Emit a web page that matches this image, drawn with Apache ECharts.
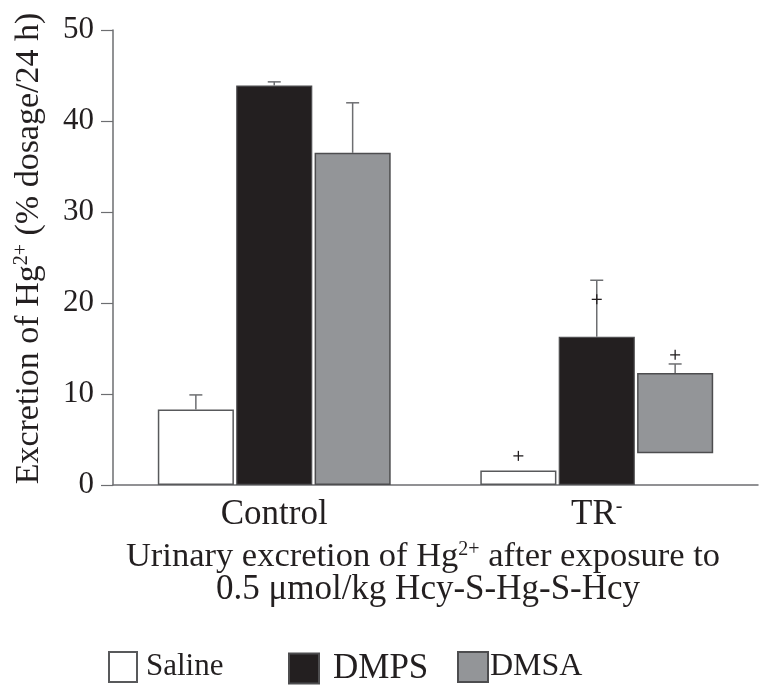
<!DOCTYPE html>
<html>
<head>
<meta charset="utf-8">
<script src="https://cdn.jsdelivr.net/npm/echarts@6/dist/echarts.min.js"></script>
<style>
html,body{margin:0;padding:0;background:#fff;}
#chart{width:774px;height:698px;}
</style>
</head>
<body>
<div id="chart"></div>
<script>
// ---- data ----
const categories = ['Control', 'TR-'];
const seriesNames = ['Saline', 'DMPS', 'DMSA'];
const salineValues = [8.3, 1.6];
const dmpsValues = [43.9, 16.3];
const dmsaTopValues = [36.5, 12.3];
const dmsaBaseValues = [0, 3.5];
const salineErrTop = [9.9, null];
const dmpsErrTop = [44.3, 22.5];
const dmsaErrTop = [42.0, 13.3];
const salinePlus = [null, 3.2];
const dmpsPlus = [null, 20.4];
const dmsaPlus = [null, 14.3];
const yTicks = [0, 10, 20, 30, 40, 50];

// ---- styles ----
const FONT = '"Liberation Serif", "DejaVu Serif", serif';
const TXT = '#231f20';
const BAR_W = 0.236;   // fraction of category band
const BAR_GAP = 0.03;  // fraction of bar width

const chart = echarts.init(document.getElementById('chart'), null, {renderer: 'canvas'});

// error bars data: [catIndex, slot, barTop, errTop]
const errData = [];
[[salineValues, salineErrTop], [dmpsValues, dmpsErrTop], [dmsaTopValues, dmsaErrTop]].forEach(function (pair, slot) {
  pair[0].forEach(function (v, i) {
    if (pair[1][i] != null) errData.push([i, slot, v, pair[1][i]]);
  });
});
const plusData = [];
[salinePlus, dmpsPlus, dmsaPlus].forEach(function (arr, slot) {
  arr.forEach(function (v, i) { if (v != null) plusData.push([i, slot, v]); });
});

function slotX(api, cat, slot) {
  const c = api.coord([cat, 0]);
  const band = api.size([1, 0])[0];
  const bw = band * BAR_W;
  return c[0] + (slot - 1) * bw * (1 + BAR_GAP);
}

const dmsaHeights = dmsaTopValues.map(function (v, i) { return v - dmsaBaseValues[i]; });

function legendItem(name, left, iconW, fontSize, pad) {
  return {
    data: [{name: name, icon: 'rect'}], left: left, top: 646, itemWidth: iconW, itemHeight: 30, itemGap: 10,
    textStyle: {fontFamily: FONT, fontSize: fontSize, color: TXT, padding: [0, 0, 0, pad]}, selectedMode: false
  };
}

const option = {
  backgroundColor: '#fff',
  animation: false,
  grid: {left: 113, right: 16, top: 30, bottom: 213, containLabel: false},
  legend: [
    legendItem(seriesNames[0], 103, 28, 31, 4),
    legendItem(seriesNames[1], 283, 30, 35, 9),
    legendItem(seriesNames[2], 452, 30, 32, -3)
  ],
  xAxis: {
    type: 'category',
    data: categories,
    axisTick: {show: false},
    axisLine: {lineStyle: {color: '#6d6e71', width: 1.5}},
    axisLabel: {
      fontFamily: FONT, fontSize: 35, color: TXT, margin: 12,
      formatter: function (v) {
        if (v.slice(-1) === '-') return v.slice(0, -1) + '{sup|-}';
        return v;
      },
      rich: {sup: {fontFamily: FONT, fontSize: 20, color: TXT, verticalAlign: 'top', padding: [0, 0, 16, 0]}}
    }
  },
  yAxis: {
    type: 'value',
    min: yTicks[0], max: yTicks[yTicks.length - 1], interval: yTicks[1] - yTicks[0],
    axisLine: {show: true, lineStyle: {color: '#6d6e71', width: 1.5}},
    axisTick: {show: true, length: 12, lineStyle: {color: '#6d6e71', width: 1.2}},
    splitLine: {show: false},
    axisLabel: {fontFamily: FONT, fontSize: 31, color: TXT, margin: 19},
    name: 'Excretion of Hg{sup|2+} (% dosage/24 h)',
    nameLocation: 'middle',
    nameGap: 67,
    nameRotate: 90,
    nameTextStyle: {
      fontFamily: FONT, fontSize: 34, color: TXT, padding: [0, 0, 0, 18],
      rich: {sup: {fontFamily: FONT, fontSize: 20, color: TXT, verticalAlign: 'top', padding: [0, 0, 14, 0]}}
    }
  },
  graphic: [
    {type: 'text', x: 423, y: 557, style: {
      text: 'Urinary excretion of Hg{sup|2+} after exposure to',
      font: '34.5px ' + FONT, fill: TXT, align: 'center', verticalAlign: 'middle',
      rich: {sup: {fontFamily: FONT, fontSize: 20, fill: TXT, verticalAlign: 'top', padding: [0, 0, 15, 0]}}
    }},
    {type: 'text', x: 428, y: 590, style: {
      text: '0.5 μmol/kg Hcy-S-Hg-S-Hcy',
      font: '35px ' + FONT, fill: TXT, align: 'center', verticalAlign: 'middle'
    }}
  ],
  series: [
    {name: seriesNames[0], type: 'bar', data: salineValues, barWidth: (BAR_W * 100) + '%',
     itemStyle: {color: '#ffffff', borderColor: '#58595b', borderWidth: 1.5}},
    {name: seriesNames[1], type: 'bar', data: dmpsValues, barWidth: (BAR_W * 100) + '%',
     itemStyle: {color: '#231f20', borderColor: '#4d4d4f', borderWidth: 1.2}},
    {name: 'dmsa-base', type: 'bar', stack: 'dmsa', data: dmsaBaseValues, barWidth: (BAR_W * 100) + '%',
     itemStyle: {color: 'rgba(0,0,0,0)'}, silent: true},
    {name: seriesNames[2], type: 'bar', stack: 'dmsa', data: dmsaHeights, barWidth: (BAR_W * 100) + '%',
     barGap: (BAR_GAP * 100) + '%',
     itemStyle: {color: '#939598', borderColor: '#4d4d4f', borderWidth: 1.5}},
    {type: 'custom', name: 'err', data: errData, z: 5,
     renderItem: function (params, api) {
       const cat = api.value(0), slot = api.value(1);
       const x = slotX(api, cat, slot);
       const y0 = api.coord([cat, api.value(2)])[1];
       const y1 = api.coord([cat, api.value(3)])[1];
       const st = {stroke: '#6d6e71', lineWidth: 1.5};
       return {type: 'group', children: [
         {type: 'line', shape: {x1: x, y1: y0, x2: x, y2: y1}, style: st},
         {type: 'line', shape: {x1: x - 6.5, y1: y1, x2: x + 6.5, y2: y1}, style: st}
       ]};
     }},
    {type: 'custom', name: 'plus', data: plusData, z: 6,
     renderItem: function (params, api) {
       const cat = api.value(0), slot = api.value(1);
       const x = slotX(api, cat, slot);
       const y = api.coord([cat, api.value(2)])[1];
       return {type: 'group', children: [
         {type: 'line', shape: {x1: x - 5, y1: y, x2: x + 5, y2: y}, style: {stroke: TXT, lineWidth: 1.3}},
         {type: 'line', shape: {x1: x, y1: y - 5, x2: x, y2: y + 5}, style: {stroke: TXT, lineWidth: 1.3}}
       ]};
     }}
  ]
};
chart.setOption(option);
</script>
</body>
</html>
